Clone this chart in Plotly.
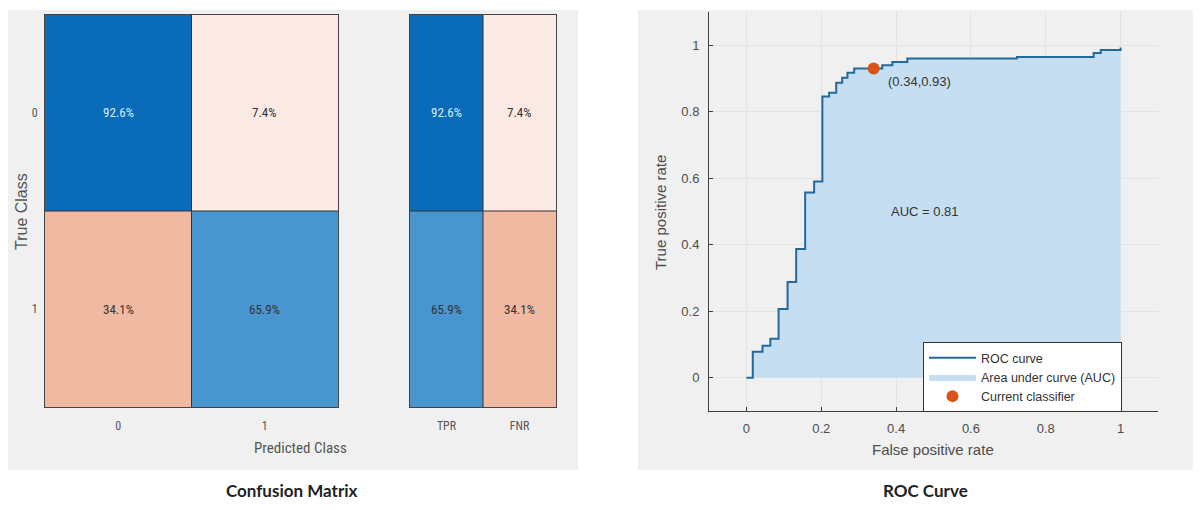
import plotly.graph_objects as go

# page body has an 8px margin; the figure is sized/offset to compensate
OFF = 8
W, H = 1201 - OFF, 510 - 2 * OFF

# ---------------- data ----------------
classes = ["0", "1"]
cm_pct = [[92.6, 7.4], [34.1, 65.9]]          # rows: true class, cols: predicted class
rate_labels = ["TPR", "FNR"]
tpr_pct = [92.6, 65.9]
fnr_pct = [7.4, 34.1]

roc_fpr = [0.0, 0.017, 0.043, 0.064, 0.086, 0.110, 0.133, 0.157, 0.181, 0.203,
           0.221, 0.240, 0.256, 0.270, 0.288, 0.363, 0.390, 0.430, 0.723, 0.928,
           0.947, 1.0]
roc_tpr = [0.0, 0.078, 0.096, 0.117, 0.207, 0.288, 0.387, 0.557, 0.590, 0.846,
           0.857, 0.887, 0.902, 0.917, 0.930, 0.940, 0.950, 0.960, 0.965, 0.977,
           0.986, 0.993]
auc_value = 0.81
op_fpr, op_tpr = 0.34, 0.93
roc_ticks = [0, 0.2, 0.4, 0.6, 0.8, 1]
roc_ticktext = ["0", "0.2", "0.4", "0.6", "0.8", "1"]


def px(x):
    return (x - OFF) / W


def py(y):
    return 1 - (y - OFF) / H


# signed values: positive = correct (blue), negative = error (red)
cm_signed = [[v if i == j else -v for j, v in enumerate(row)] for i, row in enumerate(cm_pct)]
rate_signed = [[tpr_pct[i], -fnr_pct[i]] for i in range(len(classes))]

colorscale = [
    [0.0, "#C2502A"],
    [(100 - 34.1) / 200, "#EFBAA1"],
    [(100 - 7.4) / 200, "#FBEAE3"],
    [0.5, "#FFFFFF"],
    [(100 + 65.9) / 200, "#4895D0"],
    [(100 + 92.6) / 200, "#0A6BB8"],
    [1.0, "#05569A"],
]

NARROW = "Liberation Sans Narrow, Arial Narrow, Roboto Condensed, Liberation Sans, sans-serif"
SANS = "Liberation Sans, Arial, sans-serif"

fig = go.Figure()

fig.add_trace(go.Heatmap(z=cm_signed, x=[0, 1], y=[0, 1], zmin=-100, zmax=100,
                         colorscale=colorscale, showscale=False, hoverinfo="skip",
                         xaxis="x", yaxis="y"))
fig.add_trace(go.Heatmap(z=rate_signed, x=[0, 1], y=[0, 1], zmin=-100, zmax=100,
                         colorscale=colorscale, showscale=False, hoverinfo="skip",
                         xaxis="x2", yaxis="y2"))

# ROC: fill first (below), then line, then operating point
fig.add_trace(go.Scatter(x=roc_fpr, y=roc_tpr, mode="lines", line_shape="hv",
                         fill="tozeroy", fillcolor="#C6DEF1",
                         line=dict(color="rgba(0,0,0,0)", width=0),
                         name="Area under curve (AUC)", legendrank=2,
                         xaxis="x3", yaxis="y3"))
fig.add_trace(go.Scatter(x=roc_fpr, y=roc_tpr, mode="lines", line_shape="hv",
                         line=dict(color="#236A9A", width=2), name="ROC curve", legendrank=1,
                         xaxis="x3", yaxis="y3"))
fig.add_trace(go.Scatter(x=[op_fpr], y=[op_tpr], mode="markers",
                         marker=dict(color="#D95319", size=12),
                         name="Current classifier", legendrank=3,
                         xaxis="x3", yaxis="y3"))

annotations = []
for i, row in enumerate(cm_pct):
    for j, v in enumerate(row):
        annotations.append(dict(x=j, y=i, xref="x", yref="y", text=f"{v}%", showarrow=False,
                                font=dict(family=NARROW, size=13,
                                          color="#DCEBF7" if v > 80 else "#333333")))
for i in range(len(classes)):
    for j, v in enumerate([tpr_pct[i], fnr_pct[i]]):
        annotations.append(dict(x=j, y=i, xref="x2", yref="y2", text=f"{v}%", showarrow=False,
                                font=dict(family=NARROW, size=13,
                                          color="#DCEBF7" if v > 80 else "#333333")))

C = dict(xanchor="center", yanchor="middle", showarrow=False, xref="paper", yref="paper")
annotations += [
    dict(x=px(300), y=py(448), text="Predicted Class",
         font=dict(family=NARROW, size=15, color="#555555"), **C),
    dict(x=px(21), y=py(212), text="True Class", textangle=-90,
         font=dict(family=SANS, size=16, color="#555555"), **C),
    dict(x=px(933), y=py(449), text="False positive rate",
         font=dict(family=SANS, size=15, color="#4D4D4D"), **C),
    dict(x=px(660), y=py(213), text="True positive rate", textangle=-90,
         font=dict(family=SANS, size=15, color="#4D4D4D"), **C),
    dict(x=px(292), y=py(490), text="<b>Confusion Matrix</b>",
         font=dict(family="Lato, Open Sans, sans-serif", size=17, color="#222222"), **C),
    dict(x=px(925), y=py(490), text="<b>ROC Curve</b>",
         font=dict(family="Lato, Open Sans, sans-serif", size=17, color="#222222"), **C),
    dict(x=0.373, y=0.89, xref="x3", yref="y3", xanchor="left", yanchor="middle",
         text=f"({op_fpr},{op_tpr})", showarrow=False,
         font=dict(family=SANS, size=13, color="#333333")),
    dict(x=0.38, y=0.5, xref="x3", yref="y3", xanchor="left", yanchor="middle",
         text=f"AUC = {auc_value}", showarrow=False,
         font=dict(family=SANS, size=13, color="#333333")),
]

shapes = [
    dict(type="rect", xref="paper", yref="paper", x0=px(7), x1=px(578), y0=py(470), y1=py(10),
         fillcolor="#F0F0F0", line=dict(width=0), layer="below"),
    dict(type="rect", xref="paper", yref="paper", x0=px(638), x1=1, y0=py(470), y1=py(10),
         fillcolor="#F0F0F0", line=dict(width=0), layer="below"),
    # cell dividers
    dict(type="line", xref="x", yref="y", x0=0.5, x1=0.5, y0=-0.5, y1=1.5, line=dict(color="#333333", width=1)),
    dict(type="line", xref="x", yref="y", x0=-0.5, x1=1.5, y0=0.5, y1=0.5, line=dict(color="#333333", width=1)),
    dict(type="line", xref="x2", yref="y2", x0=0.5, x1=0.5, y0=-0.5, y1=1.5, line=dict(color="#333333", width=1)),
    dict(type="line", xref="x2", yref="y2", x0=-0.5, x1=1.5, y0=0.5, y1=0.5, line=dict(color="#333333", width=1)),
]

hm_axis = dict(showgrid=False, zeroline=False, showline=True, mirror=True,
               linecolor="#444444", linewidth=1, ticks="",
               tickfont=dict(family=NARROW, size=12, color="#555555"))

fig.update_layout(
    width=W, height=H, margin=dict(l=0, r=0, t=0, b=0),
    paper_bgcolor="white", plot_bgcolor="white",
    showlegend=True,
    xaxis=dict(domain=[px(45), px(338)], range=[-0.5, 1.5], tickvals=[0, 1], ticktext=classes,
               anchor="y", ticklabelstandoff=8, **hm_axis),
    yaxis=dict(domain=[py(407), py(15)], range=[1.5, -0.5], tickvals=[0, 1], ticktext=classes,
               anchor="x", ticklabelstandoff=4, **hm_axis),
    xaxis2=dict(domain=[px(410), px(556)], range=[-0.5, 1.5], tickvals=[0, 1], ticktext=rate_labels,
                anchor="y2", ticklabelstandoff=8, **hm_axis),
    yaxis2=dict(domain=[py(407), py(15)], range=[1.5, -0.5], showticklabels=False,
                anchor="x2", **hm_axis),
    xaxis3=dict(domain=[px(709), px(1158)], range=[-0.1, 1.1], tickvals=roc_ticks, ticktext=roc_ticktext,
                anchor="y3", showgrid=True, gridcolor="#E3E3E3", zeroline=False,
                showline=True, linecolor="#404040", linewidth=1, ticks="inside", ticklen=4,
                tickcolor="#404040", ticklabelstandoff=5,
                tickfont=dict(family=SANS, size=13, color="#4D4D4D")),
    yaxis3=dict(domain=[py(411), py(12)], range=[-0.1, 1.1], tickvals=roc_ticks, ticktext=roc_ticktext,
                anchor="x3", showgrid=True, gridcolor="#E3E3E3", zeroline=False,
                showline=True, linecolor="#404040", linewidth=1, ticks="inside", ticklen=4,
                tickcolor="#404040", ticklabelstandoff=6,
                tickfont=dict(family=SANS, size=13, color="#4D4D4D")),
    legend=dict(x=px(923), y=py(342), xanchor="left", yanchor="top",
                bgcolor="white", bordercolor="#333333", borderwidth=1,
                font=dict(family=SANS, size=12.5, color="#333333"),
                tracegroupgap=0, itemwidth=47),
    annotations=annotations,
    shapes=shapes,
)

fig.write_html("out.html")
